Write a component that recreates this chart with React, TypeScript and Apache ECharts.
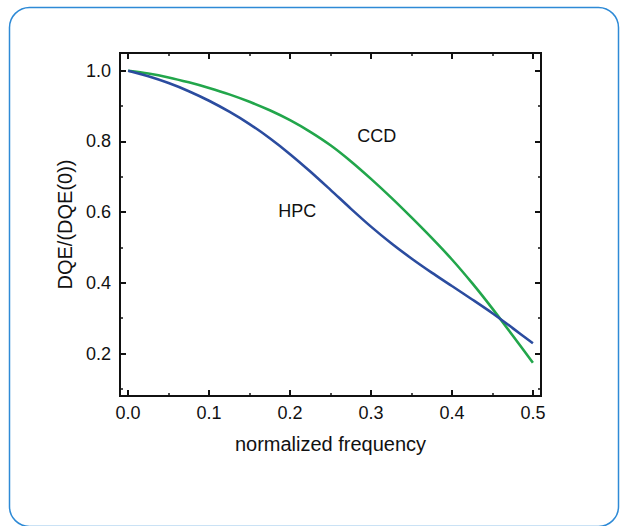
import { useEffect, useRef } from "react";
import * as echarts from "echarts";

// normalized frequency samples
const frequency = [
  0, 0.025, 0.05, 0.075, 0.1, 0.125, 0.15, 0.175, 0.2, 0.225, 0.25,
  0.275, 0.3, 0.325, 0.35, 0.375, 0.4, 0.425, 0.45, 0.475, 0.5,
];
// DQE/(DQE(0)) for HPC (blue)
const hpc = [
  1.0, 0.984, 0.965, 0.942, 0.915, 0.884, 0.849, 0.809, 0.764, 0.715, 0.663,
  0.61, 0.559, 0.512, 0.469, 0.429, 0.391, 0.353, 0.314, 0.272, 0.229,
];
// DQE/(DQE(0)) for CCD (green)
const ccd = [
  1.0, 0.992, 0.981, 0.967, 0.951, 0.933, 0.912, 0.888, 0.86, 0.827, 0.789,
  0.744, 0.694, 0.641, 0.585, 0.527, 0.466, 0.399, 0.327, 0.251, 0.174,
];
const seriesNames = ["HPC", "CCD"];
const xAxisName = "normalized frequency";
const yAxisName = "DQE/(DQE(0))";
// annotation anchors in data coordinates
const ccdLabelAt = [0.307, 0.816];
const hpcLabelAt = [0.209, 0.604];

const FONT = '"Liberation Sans", Arial, Helvetica, sans-serif';
const BLACK = "#111111";

// plot frame layout (pixels)
const GRID = { left: 120, right: 80, top: 53, bottom: 130 };
const W = 621;
const H = 526;

function axisCommon(showLabels: boolean, margin = 8) {
  return {
    type: "value" as const,
    splitNumber: 5,
    axisLine: { show: true, onZero: false, lineStyle: { color: BLACK, width: 2, type: "solid" } },
    axisTick: { show: true, inside: true, length: 6, lineStyle: { color: BLACK, width: 2 } },
    minorTick: { show: true, splitNumber: 2, length: 3, lineStyle: { color: BLACK, width: 1.5 } },
    splitLine: { show: false },
    minorSplitLine: { show: false },
    axisLabel: {
      show: showLabels,
      showMinLabel: false,
      showMaxLabel: false,
      margin,
      fontSize: 18,
      color: "#111",
      fontFamily: FONT,
      formatter: (v: number) => v.toFixed(1),
    },
  };
}

export default function App() {
  const ref = useRef<HTMLDivElement>(null);
  useEffect(() => {
    if (!ref.current) return;
    const chart = echarts.init(ref.current, undefined, { renderer: "svg" });
    const xBase = { min: -0.01, max: 0.51, minInterval: 0.1, maxInterval: 0.1 };
    const yBase = { min: 0.08, max: 1.05, minInterval: 0.2, maxInterval: 0.2 };
    const L = GRID.left;
    const R = W - GRID.right;
    const T = GRID.top;
    const B = H - GRID.bottom;
    const frameLine = (x1: number, y1: number, x2: number, y2: number) => ({
      type: "line",
      silent: true,
      z: 100,
      shape: { x1, y1, x2, y2 },
      style: { stroke: BLACK, lineWidth: 2 },
    });
    chart.setOption({
      animation: false,
      backgroundColor: "#ffffff",
      textStyle: { fontFamily: FONT },
      graphic: {
        elements: [
          {
            type: "rect",
            silent: true,
            z: -10,
            shape: { x: 9.5, y: 7.5, width: 609, height: 519, r: 20 },
            style: { fill: "none", stroke: "#2e8ad6", lineWidth: 1.5 },
          },
          frameLine(L, T, R, T),
          frameLine(R, T, R, B),
          frameLine(R, B, L, B),
          frameLine(L, B, L, T),
        ],
      },
      grid: {
        ...GRID,
        containLabel: false,
        show: true,
        borderColor: BLACK,
        borderWidth: 2,
      },
      xAxis: [
        {
          ...axisCommon(true, 8),
          ...xBase,
          position: "bottom",
          name: xAxisName,
          nameLocation: "middle",
          nameGap: 38,
          nameTextStyle: { fontSize: 20, color: "#111", fontFamily: FONT },
        },
        { ...axisCommon(false), ...xBase, position: "top" },
      ],
      yAxis: [
        {
          ...axisCommon(true, 9),
          ...yBase,
          position: "left",
          name: yAxisName,
          nameLocation: "middle",
          nameGap: 45,
          nameTextStyle: { fontSize: 20, color: "#111", fontFamily: FONT },
        },
        { ...axisCommon(false), ...yBase, position: "right" },
      ],
      series: [
        {
          name: seriesNames[0],
          type: "line",
          xAxisIndex: 0,
          yAxisIndex: 0,
          data: frequency.map((f, i) => [f, hpc[i]]),
          smooth: 0.3,
          showSymbol: false,
          symbol: "none",
          lineStyle: { color: "#2b4c9f", width: 2.6 },
          z: 3,
          markPoint: {
            symbol: "circle",
            symbolSize: 0,
            silent: true,
            label: {
              show: true,
              position: "inside",
              formatter: seriesNames[0],
              fontSize: 18,
              color: "#111",
              fontFamily: FONT,
            },
            data: [{ coord: hpcLabelAt }],
          },
        },
        {
          name: seriesNames[1],
          type: "line",
          xAxisIndex: 0,
          yAxisIndex: 0,
          data: frequency.map((f, i) => [f, ccd[i]]),
          smooth: 0.3,
          showSymbol: false,
          symbol: "none",
          lineStyle: { color: "#22a64b", width: 2.6 },
          z: 2,
          markPoint: {
            symbol: "circle",
            symbolSize: 0,
            silent: true,
            label: {
              show: true,
              position: "inside",
              formatter: seriesNames[1],
              fontSize: 18,
              color: "#111",
              fontFamily: FONT,
            },
            data: [{ coord: ccdLabelAt }],
          },
        },
      ],
    });
    return () => chart.dispose();
  }, []);
  return (
    <div
      ref={ref}
      style={{ position: "fixed", left: 0, top: 0, width: W, height: H }}
    />
  );
}
